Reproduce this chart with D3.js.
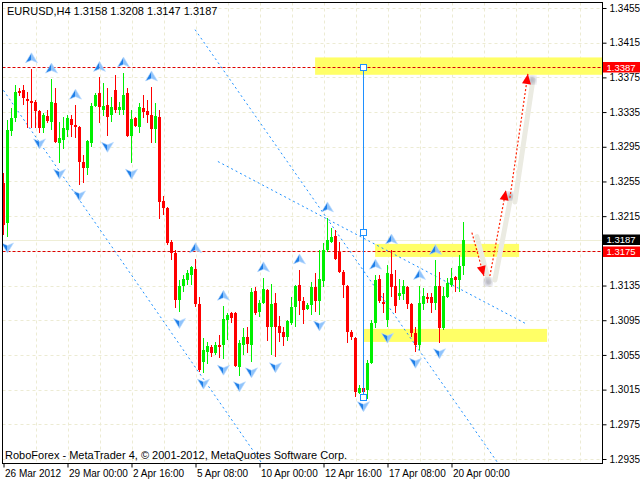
<!DOCTYPE html>
<html><head><meta charset="utf-8">
<script src="https://cdnjs.cloudflare.com/ajax/libs/d3/7.8.5/d3.min.js"></script>
<style>
body{margin:0;background:#fff}
svg{display:block}
text{font-family:"Liberation Sans",Arial,sans-serif;}
</style>
</head><body>
<svg id="c" width="640" height="481"></svg>
<script>
// ---------------- DATA ----------------
const symbol = "EURUSD,H4";
const opens = [1.3253,1.3207,1.3313,1.3328,1.3359,1.3360,1.3350,1.3348,1.3347,1.3336,
1.3317,1.3330,1.3324,1.3345,1.3299,1.3303,1.3314,1.3327,1.3320,1.3318,
1.3277,1.3271,1.3299,1.3342,1.3357,1.3337,1.3343,1.3332,1.3360,1.3337,
1.3337,1.3357,1.3307,1.3328,1.3318,1.3340,1.3336,1.3332,1.3315,1.3329,
1.3232,1.3224,1.3185,1.3172,1.3118,1.3134,1.3141,1.3147,1.3154,1.3114,
1.3047,1.3058,1.3064,1.3057,1.3066,1.3066,1.3095,1.3103,1.3103,1.3041,
1.3066,1.3076,1.3066,1.3129,1.3104,1.3115,1.3130,1.3087,1.3115,1.3088,
1.3081,1.3076,1.3092,1.3110,1.3136,1.3117,1.3108,1.3113,1.3133,1.3117,
1.3140,1.3176,1.3185,1.3192,1.3174,1.3151,1.3134,1.3081,1.3075,1.3011,
1.3017,1.3015,1.3046,1.3092,1.3143,1.3116,1.3095,1.3148,1.3134,1.3123,
1.3125,1.3133,1.3114,1.3080,1.3066,1.3114,1.3122,1.3122,1.3115,1.3134,
1.3086,1.3122,1.3136,1.3145,1.3141,1.3158];
const highs = [1.3265,1.3326,1.3340,1.3366,1.3363,1.3366,1.3358,1.3385,1.3349,1.3337,
1.3334,1.3337,1.3373,1.3363,1.3324,1.3329,1.3332,1.3332,1.3343,1.3319,
1.3285,1.3303,1.3345,1.3357,1.3375,1.3369,1.3363,1.3352,1.3378,1.3347,
1.3380,1.3363,1.3337,1.3329,1.3345,1.3355,1.3349,1.3364,1.3345,1.3337,
1.3238,1.3226,1.3187,1.3176,1.3141,1.3147,1.3153,1.3157,1.3166,1.3122,
1.3075,1.3070,1.3066,1.3070,1.3078,1.3111,1.3103,1.3104,1.3104,1.3072,
1.3086,1.3087,1.3132,1.3133,1.3118,1.3144,1.3131,1.3137,1.3126,1.3100,
1.3087,1.3095,1.3122,1.3136,1.3153,1.3122,1.3115,1.3139,1.3149,1.3176,
1.3184,1.3213,1.3201,1.3199,1.3185,1.3153,1.3136,1.3084,1.3076,1.3020,
1.3026,1.3049,1.3095,1.3147,1.3147,1.3126,1.3159,1.3176,1.3153,1.3143,
1.3141,1.3134,1.3115,1.3087,1.3135,1.3132,1.3126,1.3126,1.3164,1.3151,
1.3133,1.3144,1.3155,1.3146,1.3170,1.3208];
const lows = [1.3193,1.3191,1.3307,1.3324,1.3353,1.3343,1.3317,1.3317,1.3317,1.3311,
1.3311,1.3322,1.3314,1.3299,1.3276,1.3292,1.3306,1.3306,1.3305,1.3251,
1.3253,1.3262,1.3295,1.3341,1.3322,1.3330,1.3307,1.3324,1.3334,1.3332,
1.3332,1.3306,1.3276,1.3318,1.3311,1.3328,1.3322,1.3299,1.3299,1.3212,
1.3216,1.3182,1.3164,1.3109,1.3104,1.3128,1.3136,1.3136,1.3110,1.3035,
1.3034,1.3045,1.3053,1.3055,1.3051,1.3050,1.3072,1.3092,1.3041,1.3031,
1.3055,1.3057,1.3047,1.3101,1.3099,1.3114,1.3071,1.3055,1.3053,1.3070,
1.3065,1.3071,1.3089,1.3087,1.3101,1.3091,1.3107,1.3101,1.3104,1.3101,
1.3133,1.3174,1.3184,1.3164,1.3149,1.3121,1.3069,1.3072,1.3006,1.3010,
1.3008,1.3004,1.3045,1.3086,1.3115,1.3103,1.3087,1.3122,1.3103,1.3118,
1.3118,1.3108,1.3076,1.3058,1.3061,1.3107,1.3115,1.3103,1.3107,1.3069,
1.3084,1.3121,1.3133,1.3128,1.3128,1.3147];
const closes = [1.3205,1.3314,1.3328,1.3358,1.3357,1.3351,1.3348,1.3345,1.3336,1.3317,
1.3332,1.3325,1.3347,1.3300,1.3305,1.3317,1.3328,1.3320,1.3318,1.3277,
1.3271,1.3302,1.3342,1.3355,1.3341,1.3342,1.3329,1.3341,1.3337,1.3341,
1.3355,1.3307,1.3327,1.3319,1.3341,1.3335,1.3332,1.3315,1.3330,1.3231,
1.3224,1.3184,1.3172,1.3118,1.3134,1.3143,1.3149,1.3156,1.3114,1.3038,
1.3061,1.3065,1.3057,1.3066,1.3064,1.3096,1.3101,1.3098,1.3042,1.3069,
1.3076,1.3068,1.3128,1.3103,1.3115,1.3131,1.3087,1.3114,1.3087,1.3080,
1.3076,1.3094,1.3110,1.3134,1.3117,1.3107,1.3113,1.3133,1.3117,1.3143,
1.3176,1.3187,1.3191,1.3166,1.3151,1.3136,1.3081,1.3076,1.3012,1.3017,
1.3012,1.3046,1.3092,1.3141,1.3117,1.3114,1.3149,1.3133,1.3111,1.3126,
1.3134,1.3114,1.3080,1.3066,1.3115,1.3123,1.3119,1.3115,1.3134,1.3086,
1.3123,1.3138,1.3144,1.3141,1.3157,1.3187];

const yTicks = [1.3455,1.3415,1.3375,1.3335,1.3295,1.3255,1.3215,1.3175,1.3135,1.3095,1.3055,1.3015,1.2975,1.2935];
const xTickIdx = [0,16,32,48,64,80,96,112];
const xTickLabels = ["26 Mar 2012","29 Mar 00:00","2 Apr 16:00","5 Apr 08:00","10 Apr 00:00","12 Apr 16:00","17 Apr 08:00","20 Apr 00:00"];

const fractalUp = [7,12,18,24,30,37,48,55,65,74,81,93,97,104,108];
const fractalDown = [1,9,14,19,26,32,44,50,55,59,62,68,79,90,96,103,109];

// dotted trend lines: [startIdx, startPrice] -> [endIdx, endPrice]
const trendStart = [[0,1.3360],[47.9,1.3430],[53.6,1.3278]];
const trendEnd   = [[64.6,1.2930],[124.1,1.2927],[130.6,1.3091]];

// horizontal levels (red dashed)
const levels = [1.3387,1.3175];
// zones
const zoneFrom = [77.9, 92.9, 89.9];
const zoneTo   = [160, 128.9, 135.9];
const zoneTop  = [1.3398, 1.3183, 1.3085];
const zoneBot  = [1.3378, 1.3168, 1.3070];

// vertical selected line
const vlineIdx = 90, vlineTop = 1.3387, vlineBot = 1.3007;

// forecast arrows
const fcFromIdx = [117.1,121.6,126.6];
const fcFromP   = [1.3196,1.3146,1.3236];
const fcToIdx   = [120.1,125.6,131.1];
const fcToP     = [1.3146,1.3245,1.3379];

const bidPrice = 1.3187;
const copyright = "RoboForex - MetaTrader 4, © 2001-2012, MetaQuotes Software Corp.";

// ---------------- DRAW ----------------
const svg = d3.select("#c");
const L=2.5,R=602.5,T=2.5,B=463.5;
const x = d3.scaleLinear().domain([0,100]).range([3.5,403.5]);
const y = d3.scaleLinear().domain([1.2935,1.3455]).range([459,8]);

svg.append("rect").attr("width",640).attr("height",481).attr("fill","#fff");
const defs = svg.append("defs");
defs.append("clipPath").attr("id","plot").append("rect").attr("x",L).attr("y",T).attr("width",R-L).attr("height",B-T);
defs.append("filter").attr("id","blur").append("feGaussianBlur").attr("stdDeviation",2);

const g = svg.append("g").attr("clip-path","url(#plot)");

// grid
const gridIdx = d3.range(8,150,8);
g.selectAll(".vg").data(gridIdx).join("line")
  .attr("x1",d=>Math.round(x(d))+0.5).attr("x2",d=>Math.round(x(d))+0.5).attr("y1",T).attr("y2",B)
  .attr("stroke","#ecebd3").attr("stroke-dasharray","3,3");
g.selectAll(".hg").data(yTicks).join("line")
  .attr("y1",d=>Math.round(y(d))+0.5).attr("y2",d=>Math.round(y(d))+0.5).attr("x1",L).attr("x2",R)
  .attr("stroke","#ecebd3").attr("stroke-dasharray","3,3");

// zones
g.selectAll(".zone").data(zoneFrom).join("rect")
  .attr("x",(d,i)=>x(d)).attr("width",(d,i)=>x(zoneTo[i])-x(d))
  .attr("y",(d,i)=>y(zoneTop[i])).attr("height",(d,i)=>y(zoneBot[i])-y(zoneTop[i]))
  .attr("fill","#ffff66");

// bid line
g.append("line").attr("x1",L).attr("x2",R).attr("y1",Math.round(y(bidPrice))+0.5).attr("y2",Math.round(y(bidPrice))+0.5)
  .attr("stroke","#efeed6");

// red dashed levels
g.selectAll(".lvl").data(levels).join("line")
  .attr("x1",L).attr("x2",R).attr("y1",d=>Math.round(y(d))+0.5).attr("y2",d=>Math.round(y(d))+0.5)
  .attr("stroke","#dd0000").attr("stroke-dasharray","3,2");

// trend lines
g.selectAll(".tl").data(trendStart).join("line")
  .attr("x1",d=>x(d[0])).attr("y1",d=>y(d[1]))
  .attr("x2",(d,i)=>x(trendEnd[i][0])).attr("y2",(d,i)=>y(trendEnd[i][1]))
  .attr("stroke","#1e90ff").attr("stroke-dasharray","2,3");

// candles
const bars = d3.range(opens.length);
const cg = g.append("g").attr("shape-rendering","crispEdges");
const col = i => closes[i]>=opens[i] ? "#00f000" : "#ff0000";
cg.selectAll(".wick").data(bars).join("line")
  .attr("x1",i=>Math.floor(x(i))+0.5).attr("x2",i=>Math.floor(x(i))+0.5)
  .attr("y1",i=>y(highs[i])).attr("y2",i=>y(lows[i]))
  .attr("stroke",col);
cg.selectAll(".body").data(bars).join("rect")
  .attr("x",i=>Math.floor(x(i))-1).attr("width",3)
  .attr("y",i=>y(Math.max(opens[i],closes[i])))
  .attr("height",i=>Math.max(1,Math.abs(y(opens[i])-y(closes[i]))))
  .attr("fill",col);

// fractal arrows (3D style arrowheads)
function arrow(sel, dir){
  // dir -1 = up, 1 = down
  const s = dir;
  sel.append("path").attr("d",`M0,${-6*s} L-6,${4*s} L0,${1.5*s} Z`).attr("fill","#1f7fe8");
  sel.append("path").attr("d",`M0,${-6*s} L6,${4*s} L0,${1.5*s} Z`).attr("fill","#8fc3fb");
  sel.append("path").attr("d",`M0,${-6*s} L6,${4*s} L0,${1.5*s} L-6,${4*s} Z`).attr("fill","none").attr("stroke","#bcdcff").attr("stroke-width",0.6);
}
g.selectAll(".fu").data(fractalUp).join("g")
  .attr("transform",i=>`translate(${x(i)},${y(highs[i])-10})`).each(function(){arrow(d3.select(this),1);});
g.selectAll(".fd").data(fractalDown).join("g")
  .attr("transform",i=>`translate(${x(i)},${y(lows[i])+10})`).each(function(){arrow(d3.select(this),-1);});

// vertical selected line with handles
const vx = Math.floor(x(vlineIdx))+0.5;
g.append("line").attr("x1",vx).attr("x2",vx).attr("y1",y(vlineTop)).attr("y2",y(vlineBot)).attr("stroke","#1e90ff");
[vlineTop,(vlineTop+vlineBot)/2,vlineBot].forEach(p=>{
  g.append("rect").attr("x",vx-3).attr("y",Math.round(y(p))-2.5).attr("width",6).attr("height",6)
   .attr("fill","#fff").attr("stroke","#1e90ff");
});

// forecast arrows
fcFromIdx.forEach((d,i)=>{
  const x1=x(d), y1=y(fcFromP[i]), x2=x(fcToIdx[i]), y2=y(fcToP[i]);
  g.append("line").attr("x1",x1+5).attr("y1",y1+4).attr("x2",x2+5).attr("y2",y2+6)
    .attr("stroke","#ebebe2").attr("stroke-width",5).attr("stroke-linecap","round");
  g.append("circle").attr("cx",x2+4).attr("cy",y2+6).attr("r",4).attr("fill","#9a9ab0").attr("opacity",0.7).attr("filter","url(#blur)");
  g.append("line").attr("x1",x1).attr("y1",y1).attr("x2",x2).attr("y2",y2)
    .attr("stroke","#ff2200").attr("stroke-dasharray","2,2").attr("stroke-width",1.2);
  const a=Math.atan2(y2-y1,x2-x1), len=10, w=4.5;
  const bx=x2-len*Math.cos(a), by=y2-len*Math.sin(a);
  g.append("path").attr("d",`M${x2},${y2} L${bx+w*Math.sin(a)},${by-w*Math.cos(a)} L${bx-w*Math.sin(a)},${by+w*Math.cos(a)} Z`)
    .attr("fill","#ff0000");
});

// header & copyright
svg.append("text").attr("x",7).attr("y",15).attr("font-size",11).attr("fill","#000")
  .text(`${symbol}  ${opens[115].toFixed(4)} ${highs[115].toFixed(4)} ${lows[115].toFixed(4)} ${closes[115].toFixed(4)}`);
svg.append("text").attr("x",5).attr("y",459).attr("font-size",11).attr("fill","#000").text(copyright);

// frame
svg.append("rect").attr("x",L).attr("y",T).attr("width",R-L).attr("height",B-T).attr("fill","none").attr("stroke","#000");

// axes
const tagPrices = [1.3387,1.3187,1.3175];
const ya = d3.axisRight(y).tickValues(yTicks).tickSize(4).tickPadding(3)
  .tickFormat(d=> tagPrices.some(p=>Math.abs(p-d)<0.00005) ? "" : d3.format(".4f")(d));
const yg = svg.append("g").attr("transform",`translate(${R},0)`).call(ya);
yg.select(".domain").remove();
yg.selectAll("line").attr("stroke","#000");
yg.selectAll("text").attr("font-size",10).attr("font-family","Liberation Sans, Arial, sans-serif").attr("fill","#000");

const xa = d3.axisBottom(x).tickValues(xTickIdx).tickSize(4).tickPadding(2).tickFormat((d,i)=>xTickLabels[i]);
const xg = svg.append("g").attr("transform",`translate(0,${B})`).call(xa);
xg.select(".domain").remove();
xg.selectAll("line").attr("stroke","#000");
xg.selectAll("text").attr("font-size",10).attr("text-anchor","start").attr("dx",1).attr("font-family","Liberation Sans, Arial, sans-serif").attr("fill","#000");

// price tags
const tagColors = ["#ff0000","#000000","#ff0000"];
const tagY = [66.5, 239.5, 251];
tagPrices.forEach((p,i)=>{
  const cy = Math.round(y(p)) + (i===1 ? -0.5 : (i===2 ? 0.5 : 0));
  svg.append("rect").attr("x",603).attr("y",cy-5).attr("width",37).attr("height",10.5).attr("fill",tagColors[i]);
  svg.append("text").attr("x",606.5).attr("y",cy+3.5).attr("font-size",9.5).attr("fill","#fff").text(p.toFixed(4));
});
</script>
</body></html>
